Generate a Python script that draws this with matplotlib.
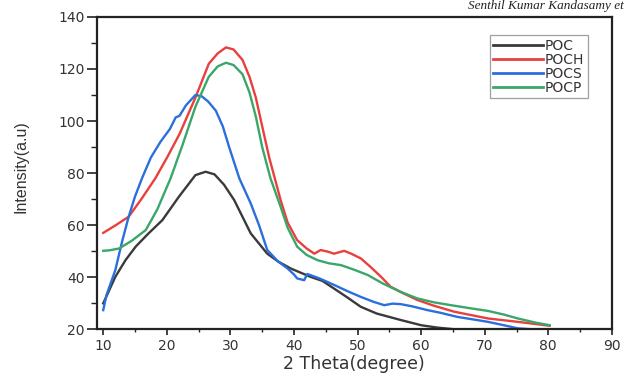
import matplotlib
matplotlib.use("Agg")
import matplotlib.pyplot as plt
from matplotlib.ticker import MultipleLocator

# XRD patterns of the four samples
poc_x = [10, 11.9, 13.5, 15.1, 17, 19.3, 21.9, 24.5, 26.1, 27.5, 29, 30.6, 33.2, 35.8,
         37.5, 39.5, 42.6, 44.5, 46.3, 48.5, 50.5, 53, 56.8, 60, 62.5, 65]
poc_y = [29.9, 40.1, 46.5, 51.7, 56.5, 61.9, 70.9, 79.2, 80.5, 79.5, 75.5, 69.6, 56.8, 49,
         46, 43.3, 40.1, 38.5, 35.6, 32, 28.6, 26, 23.5, 21.5, 20.6, 20]

poch_x = [10, 12, 14, 16, 18.2, 20, 22, 24.5, 26.6, 28, 29.3, 30.5, 31.9, 33, 34, 35, 36.1,
          37.9, 39, 40.5, 42, 43.2, 44.2, 45.3, 46.3, 47.9, 49, 50.5, 52, 53.7, 55.2, 57,
          59.4, 62, 65.2, 70.5, 75.2, 80.2]
poch_y = [57, 60, 63.2, 70, 78, 85.8, 95, 109, 122, 126, 128.3, 127.5, 123.5, 117, 109, 98,
          86, 69.6, 61, 54.2, 51, 49, 50.4, 49.8, 49, 50.1, 49, 47.2, 44, 40.1, 36.3, 34,
          31.2, 29, 26.7, 24.1, 22.8, 21.3]

pocs_x = [10, 10.5, 11.9, 13, 14, 15, 16.1, 17.5, 19, 20.5, 21.4, 22, 23, 24.5, 25.5, 26.5,
          27.7, 28.8, 29.8, 31.4, 33.2, 34.5, 35.8, 37.5, 39, 40, 40.5, 41.6, 42.1, 44,
          46.3, 48.5, 50.5, 52.5, 54.2, 55.5, 56.8, 58.5, 61, 63, 65.7, 68, 70.5, 73, 75.2, 77]
pocs_y = [27.3, 33, 42.7, 54, 63.2, 71, 78, 86, 92, 97, 101.4, 102, 106, 110, 109.5, 107.5,
          104, 98, 90, 78, 68.3, 60, 50.4, 46, 43.3, 41, 39.5, 38.8, 41.2, 39.5,
          37, 34.5, 32.4, 30.5, 29.2, 29.8, 29.6, 28.8, 27.3, 26.3, 24.7, 23.8, 22.8, 21.5, 20.3, 20]

pocp_x = [10, 11, 12.5, 14.5, 16.7, 18.5, 20.6, 22.5, 24.5, 26.6, 28, 29.3, 30.5, 31.9, 33,
          34, 35, 36.3, 37.9, 39, 40.5, 42, 43.7, 45.5, 47.4, 49.5, 51.6, 54, 56.8, 59.4,
          62, 64.7, 67.5, 70.5, 73, 75.2, 78, 80.2]
pocp_y = [50.1, 50.3, 51, 54, 58.1, 66, 78, 91, 105.5, 117, 121, 122.4, 121.5, 118, 111,
          101.7, 90, 78, 67, 59, 51.7, 48.5, 46.5, 45.3, 44.6, 42.8, 40.8, 37.5, 34.3, 31.8,
          30.3, 29.2, 28.1, 27, 25.6, 24.1, 22.5, 21.5]

x_ticks = [10, 20, 30, 40, 50, 60, 70, 80, 90]
y_ticks = [20, 40, 60, 80, 100, 120, 140]

fig = plt.figure(figsize=(6.25, 3.77), dpi=100)
ax = fig.add_axes([0.155, 0.127, 0.824, 0.828])

ax.plot(poc_x, poc_y, color="#3a3a3a", lw=1.7, label="POC")
ax.plot(poch_x, poch_y, color="#e8403e", lw=1.7, label="POCH")
ax.plot(pocs_x, pocs_y, color="#2b6fdc", lw=1.7, label="POCS")
ax.plot(pocp_x, pocp_y, color="#3aa66a", lw=1.7, label="POCP")

ax.set_xlim(9, 90)
ax.set_ylim(20, 140)
ax.set_xticks(x_ticks)
ax.set_yticks(y_ticks)
ax.xaxis.set_minor_locator(MultipleLocator(5))
ax.yaxis.set_minor_locator(MultipleLocator(10))
ax.tick_params(which="both", direction="out", top=False, right=False,
               colors="#222222", labelcolor="#333333")
ax.tick_params(axis="y", which="major", length=7, width=1.2, pad=2, labelsize=10)
ax.tick_params(axis="y", which="minor", length=4, width=1.0)
ax.tick_params(axis="x", which="major", length=4, width=1.2, pad=3, labelsize=10)
ax.tick_params(axis="x", which="minor", length=2.5, width=1.0)
for lab in ax.get_xticklabels() + ax.get_yticklabels():
    lab.set_family("DejaVu Sans")
for sp in ax.spines.values():
    sp.set_linewidth(1.6)
    sp.set_color("#222222")

fig.text(354 / 625, 1 - 364 / 377, "2 Theta(degree)", fontsize=12.5,
         family="DejaVu Sans", color="#333333", ha="center", va="center")
fig.text(21 / 625, 1 - 167 / 377, "Intensity(a.u)", fontsize=11.5,
         family="Liberation Sans", color="#333333", ha="center", va="center",
         rotation=90)

leg = ax.legend(loc="upper right", bbox_to_anchor=(0.953, 0.942), fontsize=10,
                frameon=True, fancybox=False, handlelength=3.6, handletextpad=0.1,
                borderpad=0.25, labelspacing=0.0, borderaxespad=0)
leg.get_frame().set_edgecolor("#888888")
leg.get_frame().set_linewidth(0.9)
for line in leg.get_lines():
    line.set_linewidth(2.0)
for t in leg.get_texts():
    t.set_family("DejaVu Sans")
    t.set_color("#333333")

fig.text(0.998, 1 - 9 / 377, "Senthil Kumar Kandasamy et", fontsize=9.5, style="italic",
         family="Liberation Serif", color="#222222", ha="right", va="baseline")

fig.savefig("out.png", dpi=100)
